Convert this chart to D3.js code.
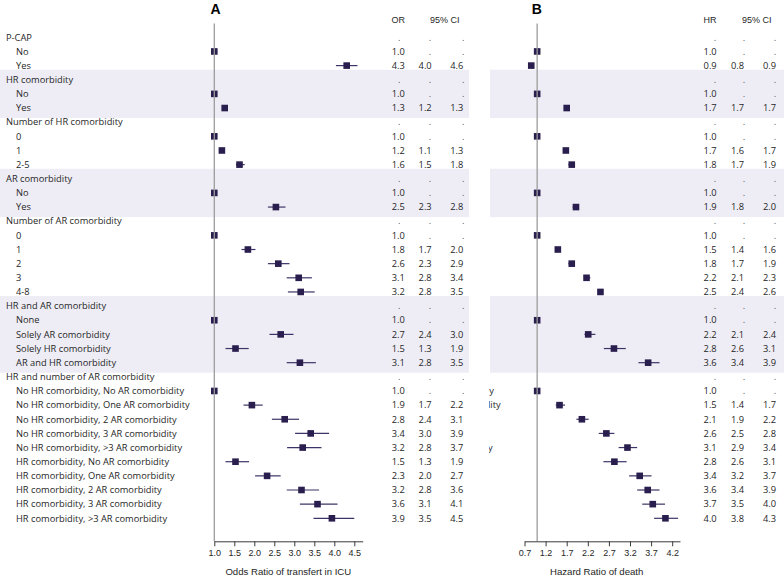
<!DOCTYPE html>
<html>
<head>
<meta charset="utf-8">
<script src="https://cdn.jsdelivr.net/npm/d3@7/dist/d3.min.js"></script>
<style>
  html, body { margin: 0; padding: 0; background: #fff; }
  svg { display: block; }
</style>
</head>
<body>
<svg id="chart" width="784" height="576"></svg>
<script>
// ---------------- DATA ----------------
const rowLabels = [
  "P-CAP", "No", "Yes",
  "HR comorbidity", "No", "Yes",
  "Number of HR comorbidity", "0", "1", "2-5",
  "AR comorbidity", "No", "Yes",
  "Number of AR comorbidity", "0", "1", "2", "3", "4-8",
  "HR and AR comorbidity", "None", "Solely AR comorbidity", "Solely HR comorbidity", "AR and HR comorbidity",
  "HR and number of AR comorbidity",
  "No HR comorbidity, No AR comorbidity", "No HR comorbidity, One AR comorbidity",
  "No HR comorbidity, 2 AR comorbidity", "No HR comorbidity, 3 AR comorbidity",
  "No HR comorbidity, >3 AR comorbidity", "HR comorbidity, No AR comorbidity",
  "HR comorbidity, One AR comorbidity", "HR comorbidity, 2 AR comorbidity",
  "HR comorbidity, 3 AR comorbidity", "HR comorbidity, >3 AR comorbidity"
];
const headerRows = [0, 3, 6, 10, 13, 19, 24];
const shadedGroups = [[3, 5], [10, 12], [19, 23]];

// Panel A: odds ratio of transfer in ICU
const orEst = [null,1.0,4.31, null,1.0,1.26, null,1.0,1.19,1.63, null,1.0,2.54,
  null,1.0,1.84,2.60,3.11,3.16, null,1.0,2.66,1.53,3.14,
  null,1.0,1.94,2.76,3.41,3.21,1.53,2.32,3.18,3.58,3.94];
const orLo = [null,null,4.04, null,null,1.22, null,null,1.12,1.54, null,null,2.34,
  null,null,1.68,2.34,2.81,2.84, null,null,2.38,1.28,2.81,
  null,null,1.73,2.44,3.02,2.82,1.28,2.02,2.81,3.14,3.48];
const orHi = [null,null,4.58, null,null,1.31, null,null,1.26,1.76, null,null,2.78,
  null,null,2.03,2.88,3.44,3.51, null,null,2.98,1.86,3.54,
  null,null,2.21,3.12,3.87,3.68,1.87,2.66,3.62,4.08,4.50];
const orTicks = [1.0, 1.5, 2.0, 2.5, 3.0, 3.5, 4.0, 4.5];

// Panel B: hazard ratio of death
const hrEst = [null,1.0,0.86, null,1.0,1.70, null,1.0,1.68,1.82, null,1.0,1.92,
  null,1.0,1.49,1.82,2.17,2.50, null,1.0,2.21,2.82,3.63,
  null,1.0,1.53,2.06,2.64,3.14,2.83,3.43,3.62,3.74,4.04];
const hrLo = [null,null,0.83, null,null,1.67, null,null,1.63,1.74, null,null,1.84,
  null,null,1.43,1.74,2.11,2.44, null,null,2.12,2.58,3.40,
  null,null,1.44,1.93,2.46,2.93,2.57,3.18,3.37,3.49,3.77];
const hrHi = [null,null,0.90, null,null,1.73, null,null,1.72,1.88, null,null,1.98,
  null,null,1.56,1.88,2.26,2.56, null,null,2.38,3.10,3.90,
  null,null,1.66,2.22,2.83,3.37,3.12,3.71,3.90,4.03,4.34];
const hrTicks = [0.7, 1.2, 1.7, 2.2, 2.7, 3.2, 3.7, 4.2];

// Cropped label fragments visible at the left edge of panel B
const ghostRows = [25, 26, 29];
const ghostText = ["y", "lity", "y"];

// ---------------- DRAW ----------------
const svg = d3.select("#chart");
const rows = d3.range(rowLabels.length);
const y = d3.scaleLinear().domain([0, rowLabels.length - 1]).range([37.3, 518.3]);

const LABEL_FONT = "'Open Sans', 'DejaVu Sans', sans-serif";
const AXIS_FONT = "'Liberation Sans', Arial, sans-serif";
const MARK = "#2a1e4e";
const LINE = "#3c3466";
const BAND = "#eeedf5";
const REF = "#9c9c9c";
const TXT = "#262626";

const panels = [
  { est: orEst, lo: orLo, hi: orHi, ticks: orTicks,
    x: d3.scaleLinear().domain([1.0, 4.71]).range([214.3, 362.7]),
    band: [0, 469], letter: "A", letterX: 215.5,
    colHead: "OR", colHeadX: 398.3, ciHeadX: 444.7,
    estX: 398.3, estAnchor: "middle", loX: 431.7, hiX: 463.3,
    dotX: [399.3, 430, 463.3],
    title: "Odds Ratio of transfert in ICU", titleX: 288.3 },
  { est: hrEst, lo: hrLo, hi: hrHi, ticks: hrTicks,
    x: d3.scaleLinear().domain([0.7, 4.385]).range([524.5, 680]),
    band: [490, 784], letter: "B", letterX: 536.7,
    colHead: "HR", colHeadX: 710, ciHeadX: 756.7,
    estX: 716.7, estAnchor: "end", loX: 744, hiX: 776,
    dotX: [715, 744, 775],
    title: "Hazard Ratio of death", titleX: 596.7 }
];

const axisY = 541.3;

// shaded bands
panels.forEach(p => {
  svg.append("g").selectAll("rect").data(shadedGroups).join("rect")
    .attr("x", p.band[0]).attr("width", p.band[1] - p.band[0])
    .attr("y", d => y(d[0]) - 10)
    .attr("height", d => y(d[1]) - y(d[0]) + 20)
    .attr("fill", BAND);
});

// row labels (panel A)
svg.append("g").selectAll("text").data(rows).join("text")
  .attr("x", i => headerRows.includes(i) ? 6 : 16)
  .attr("y", i => y(i))
  .attr("dy", "0.35em")
  .style("font-family", LABEL_FONT).style("font-size", "9.3px")
  .attr("fill", TXT)
  .text(i => rowLabels[i]);

// ghost fragments in panel B (clipped)
svg.append("clipPath").attr("id", "ghostClip")
  .append("rect").attr("x", 489).attr("y", 0).attr("width", 40).attr("height", 576);
svg.append("g").attr("clip-path", "url(#ghostClip)")
  .selectAll("text").data(ghostRows).join("text")
  .attr("x", (r, i) => [494, 500.7, 492.6][i])
  .attr("y", r => y(r))
  .attr("dy", "0.35em")
  .attr("text-anchor", "end")
  .style("font-family", LABEL_FONT).style("font-size", "9.3px")
  .attr("fill", TXT)
  .text((r, i) => ghostText[i]);

const fmt = d3.format(".1f");

panels.forEach(p => {
  const g = svg.append("g");
  const x = p.x;

  // CI lines
  g.append("g").selectAll("line")
    .data(rows.filter(i => p.lo[i] != null))
    .join("line")
    .attr("x1", i => x(p.lo[i])).attr("x2", i => x(p.hi[i]))
    .attr("y1", i => y(i)).attr("y2", i => y(i))
    .attr("stroke", LINE).attr("stroke-width", 1.2);

  // markers
  const s = 6.6;
  g.append("g").selectAll("rect")
    .data(rows.filter(i => p.est[i] != null))
    .join("rect")
    .attr("x", i => x(p.est[i]) - s / 2)
    .attr("y", i => y(i) - s / 2)
    .attr("width", s).attr("height", s)
    .attr("fill", MARK);

  // reference line at 1
  g.append("line")
    .attr("x1", x(1)).attr("x2", x(1))
    .attr("y1", 23.5).attr("y2", axisY)
    .attr("stroke", REF).attr("stroke-width", 1.3);

  // axis
  const ax = g.append("g").attr("transform", `translate(0,${axisY})`)
    .call(d3.axisBottom(x).tickValues(p.ticks).tickFormat(fmt).tickSize(5).tickSizeOuter(0));
  ax.select(".domain").attr("stroke", "#3a3a3a").attr("stroke-width", 1);
  ax.selectAll(".tick line").attr("stroke", "#3a3a3a");
  ax.selectAll(".tick text").style("font-family", AXIS_FONT).style("font-size", "9px").attr("fill", TXT);

  g.append("text")
    .attr("x", p.titleX).attr("y", 574.5)
    .attr("text-anchor", "middle")
    .style("font-family", AXIS_FONT).style("font-size", "9.6px")
    .attr("fill", TXT)
    .text(p.title);

  // panel letter
  g.append("text")
    .attr("x", p.letterX).attr("y", 14)
    .attr("text-anchor", "middle")
    .style("font-family", AXIS_FONT).style("font-size", "14px").style("font-weight", "bold")
    .attr("fill", "#000")
    .text(p.letter);

  // column headers
  g.append("text").attr("x", p.colHeadX).attr("y", 20).attr("dy", "0.35em")
    .attr("text-anchor", "middle")
    .style("font-family", AXIS_FONT).style("font-size", "9px").attr("fill", TXT)
    .text(p.colHead);
  g.append("text").attr("x", p.ciHeadX).attr("y", 20).attr("dy", "0.35em")
    .attr("text-anchor", "middle")
    .style("font-family", AXIS_FONT).style("font-size", "9px").attr("fill", TXT)
    .text("95% CI");

  // value columns
  const cols = [
    { vals: p.est, x: p.estX, anchor: p.estAnchor, dot: p.dotX[0] },
    { vals: p.lo, x: p.loX, anchor: "end", dot: p.dotX[1] },
    { vals: p.hi, x: p.hiX, anchor: "end", dot: p.dotX[2] }
  ];
  cols.forEach(c => {
    g.append("g").selectAll("text").data(rows).join("text")
      .attr("x", i => c.vals[i] == null ? c.dot : c.x)
      .attr("y", i => y(i))
      .attr("dy", "0.35em")
      .attr("text-anchor", i => c.vals[i] == null ? "middle" : c.anchor)
      .style("font-family", LABEL_FONT).style("font-size", "9.3px")
      .attr("fill", i => c.vals[i] == null ? "#555" : TXT)
      .text(i => c.vals[i] == null ? "." : fmt(c.vals[i]));
  });
});
</script>
</body>
</html>
